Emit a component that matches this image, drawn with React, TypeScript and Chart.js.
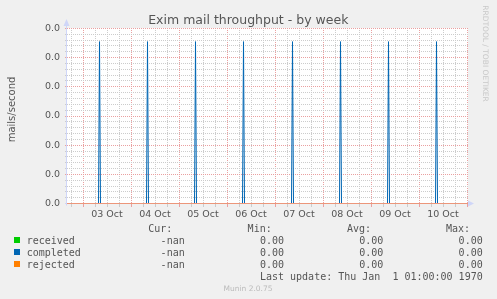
import { useEffect, useRef } from 'react';
import { Chart, registerables } from 'chart.js';

Chart.register(...registerables);

// ---------- text ----------
const TITLE = 'Exim mail throughput - by week';
const Y_TITLE = 'mails/second';
const WATERMARK = 'RRDTOOL / TOBI OETIKER';
const VERSION = 'Munin 2.0.75';
const LAST_UPDATE = 'Last update: Thu Jan  1 01:00:00 1970';

// ---------- x axis: hours since 02 Oct 16:00 ----------
const DAY_LABELS = ['03 Oct', '04 Oct', '05 Oct', '06 Oct', '07 Oct', '08 Oct', '09 Oct', '10 Oct'];
const X_MIN = 0;
const X_MAX = 200.5;
const FIRST_MIDNIGHT = 8; // 03 Oct 00:00
const FIRST_MIDDAY = 20; // 03 Oct 12:00
const X_GRID_START = 2;
const X_GRID_STEP = 6;

// ---------- y axis ----------
const Y_TOP = 0.006;
const Y_MAJOR = 0.001;
const Y_MINOR = 0.0002;
const Y_PAD = (0.5 / 175) * Y_TOP; // half a pixel, so the zero line sits on a pixel row

// ---------- series ----------
const COMPLETED_HOURS = [
  0,
  15.75, 16.25, 16.75,
  39.75, 40.25, 40.75,
  63.75, 64.25, 64.75,
  87.75, 88.25, 88.75,
  112.25, 112.75, 113.25,
  136.25, 136.75, 137.25,
  160.25, 160.75, 161.25,
  184.25, 184.75, 185.25,
  200.5,
];
const COMPLETED_VALUES = [
  0,
  0, 0.00555, 0,
  0, 0.00555, 0,
  0, 0.00555, 0,
  0, 0.00555, 0,
  0, 0.00555, 0,
  0, 0.00555, 0,
  0, 0.00555, 0,
  0, 0.00555, 0,
  0,
];
const RECEIVED_HOURS = [0, 200.5];
const RECEIVED_VALUES = [0, 0];
const REJECTED_HOURS = [0, 200.5];
const REJECTED_VALUES = [0, 0];

// ---------- legend table ----------
const SERIES_NAMES = ['received', 'completed', 'rejected'];
const SERIES_COLORS = ['#00cc00', '#0066b3', '#ff8000'];
const CUR_VALUES = ['-nan', '-nan', '-nan'];
const MIN_VALUES = ['0.00', '0.00', '0.00'];
const AVG_VALUES = ['0.00', '0.00', '0.00'];
const MAX_VALUES = ['0.00', '0.00', '0.00'];

const TEXT = '#555555';
const MAJOR_GRID = '#eaa0a0';
const MINOR_GRID = '#cccccc';
const AXIS = '#cfd6f8';

const zip = (xs: number[], ys: number[]) => xs.map((x, i) => ({ x, y: ys[i] }));
const isMult = (v: number, step: number) => Math.abs(v / step - Math.round(v / step)) < 1e-6;

const decorPlugin = {
  id: 'decor',
  beforeDraw(chart: any) {
    const { ctx, chartArea: a } = chart;
    ctx.save();
    ctx.fillStyle = '#f0f0f0';
    ctx.fillRect(0, 0, chart.width, chart.height);
    ctx.fillStyle = '#ffffff';
    ctx.fillRect(a.left, a.top, a.right - a.left, a.bottom - a.top);
    ctx.restore();
  },
  beforeDatasetsDraw(chart: any) {
    const { ctx, chartArea: a } = chart;
    const y0 = chart.scales.y.getPixelForValue(0);
    const yTop = chart.scales.y.getPixelForValue(Y_TOP);
    ctx.save();
    ctx.strokeStyle = AXIS;
    ctx.fillStyle = AXIS;
    ctx.lineWidth = 1;
    // left axis
    ctx.beginPath();
    ctx.moveTo(a.left - 0.5, y0 + 2);
    ctx.lineTo(a.left - 0.5, yTop - 4);
    ctx.stroke();
    ctx.beginPath();
    ctx.moveTo(a.left - 0.5, yTop - 9.5);
    ctx.lineTo(a.left - 3.5, yTop - 2.5);
    ctx.lineTo(a.left + 2.5, yTop - 2.5);
    ctx.closePath();
    ctx.fill();
    // bottom axis
    ctx.beginPath();
    ctx.moveTo(a.left - 2, y0);
    ctx.lineTo(a.right + 2, y0);
    ctx.stroke();
    ctx.beginPath();
    ctx.moveTo(a.right + 6, y0);
    ctx.lineTo(a.right, y0 - 3);
    ctx.lineTo(a.right, y0 + 3);
    ctx.closePath();
    ctx.fill();
    ctx.restore();
  },
  afterDraw(chart: any) {
    const { ctx } = chart;
    ctx.save();
    // title
    ctx.fillStyle = TEXT;
    ctx.font = '12.5px "DejaVu Sans"';
    ctx.textAlign = 'center';
    ctx.textBaseline = 'alphabetic';
    ctx.fillText(TITLE, 248.3, 24);
    // y title
    ctx.save();
    ctx.translate(15, 109.5);
    ctx.rotate(-Math.PI / 2);
    ctx.font = '10px "DejaVu Sans"';
    ctx.fillText(Y_TITLE, 0, 0);
    ctx.restore();
    // watermark
    ctx.save();
    ctx.translate(483, 53.5);
    ctx.rotate(Math.PI / 2);
    ctx.fillStyle = '#c8c8c8';
    ctx.font = '7.5px "DejaVu Sans"';
    ctx.fillText(WATERMARK, 0, 0);
    ctx.restore();
    // version
    ctx.fillStyle = '#bbbbbb';
    ctx.font = '7.5px "DejaVu Sans"';
    ctx.fillText(VERSION, 248, 290.7);

    // legend table
    ctx.font = '10px "DejaVu Sans Mono"';
    ctx.fillStyle = TEXT;
    ctx.textAlign = 'right';
    const headY = 231.6;
    ctx.fillText('Cur:', 172.3, headY);
    ctx.fillText('Min:', 271.7, headY);
    ctx.fillText('Avg:', 371, headY);
    ctx.fillText('Max:', 470, headY);
    SERIES_NAMES.forEach((name, i) => {
      const y = headY + 12 * (i + 1);
      ctx.fillStyle = SERIES_COLORS[i];
      ctx.fillRect(14, y - 6.6, 6, 6);
      ctx.fillStyle = TEXT;
      ctx.textAlign = 'left';
      ctx.fillText(name, 26.7, y);
      ctx.textAlign = 'right';
      ctx.fillText(CUR_VALUES[i], 184.7, y);
      ctx.fillText(MIN_VALUES[i], 284, y);
      ctx.fillText(AVG_VALUES[i], 383.3, y);
      ctx.fillText(MAX_VALUES[i], 482.7, y);
    });
    ctx.fillText(LAST_UPDATE, 482.7, headY + 48);
    ctx.restore();
  },
};

export default function App() {
  const ref = useRef<HTMLCanvasElement | null>(null);

  useEffect(() => {
    const canvas = ref.current;
    if (!canvas) return;
    // first dataset is drawn top-most: rejected above completed above received
    const chart = new Chart(canvas, {
      type: 'line',
      data: {
        datasets: [
          {
            label: SERIES_NAMES[2],
            data: zip(REJECTED_HOURS, REJECTED_VALUES),
            borderColor: 'rgb(236,150,122)',
            borderWidth: 1,
            pointRadius: 0,
            tension: 0,
          },
          {
            label: SERIES_NAMES[1],
            data: zip(COMPLETED_HOURS, COMPLETED_VALUES),
            borderColor: SERIES_COLORS[1],
            borderWidth: 1,
            pointRadius: 0,
            tension: 0,
          },
          {
            label: SERIES_NAMES[0],
            data: zip(RECEIVED_HOURS, RECEIVED_VALUES),
            borderColor: SERIES_COLORS[0],
            borderWidth: 1,
            pointRadius: 0,
            tension: 0,
          },
        ],
      },
      options: {
        animation: false,
        responsive: false,
        maintainAspectRatio: false,
        devicePixelRatio: 1,
        events: [],
        layout: { padding: { top: 28, right: 29, left: 0, bottom: 0 } },
        plugins: { legend: { display: false }, tooltip: { enabled: false }, title: { display: false } },
        scales: {
          x: {
            type: 'linear',
            min: X_MIN,
            max: X_MAX,
            afterBuildTicks: (scale: any) => {
              const ticks = [];
              for (let h = X_GRID_START; h <= X_MAX; h += X_GRID_STEP) ticks.push({ value: h });
              scale.ticks = ticks;
            },
            afterFit: (scale: any) => {
              scale.height = 95;
            },
            ticks: {
              autoSkip: false,
              maxRotation: 0,
              minRotation: 0,
              padding: 2,
              color: TEXT,
              font: { family: 'DejaVu Sans', size: 9.5 },
              callback: (value: any) => {
                const d = (Number(value) - FIRST_MIDDAY) / 24;
                return Number.isInteger(d) && d >= 0 && d < DAY_LABELS.length ? DAY_LABELS[d] : '';
              },
            },
            grid: {
              color: (c: any) =>
                c.tick && isMult(c.tick.value - FIRST_MIDNIGHT, 24) ? MAJOR_GRID : MINOR_GRID,
              lineWidth: 1,
              tickLength: 3,
            },
            border: { display: false, dash: [1, 1] },
          },
          y: {
            type: 'linear',
            min: -Y_PAD,
            max: Y_TOP + Y_PAD,
            afterBuildTicks: (scale: any) => {
              const ticks = [];
              const n = Math.round(Y_TOP / Y_MINOR);
              for (let i = 0; i <= n; i++) ticks.push({ value: i * Y_MINOR });
              scale.ticks = ticks;
            },
            afterFit: (scale: any) => {
              scale.width = 67;
            },
            ticks: {
              autoSkip: false,
              padding: 5,
              color: TEXT,
              font: { family: 'DejaVu Sans', size: 9.5 },
              callback: (value: any) => (isMult(Number(value), Y_MAJOR) ? Number(value).toFixed(1) : ''),
            },
            grid: {
              color: (c: any) => (c.tick && isMult(c.tick.value, Y_MAJOR) ? MAJOR_GRID : MINOR_GRID),
              lineWidth: 1,
              tickLength: 2,
            },
            border: { display: false, dash: [1, 1] },
          },
        },
      },
      plugins: [decorPlugin],
    } as any);
    return () => chart.destroy();
  }, []);

  return (
    <div
      style={{ position: 'absolute', left: 0, top: 0, width: 497, height: 299, background: '#f0f0f0' }}
    >
      <canvas ref={ref} width={497} height={299} style={{ display: 'block', width: 497, height: 299 }} />
    </div>
  );
}
